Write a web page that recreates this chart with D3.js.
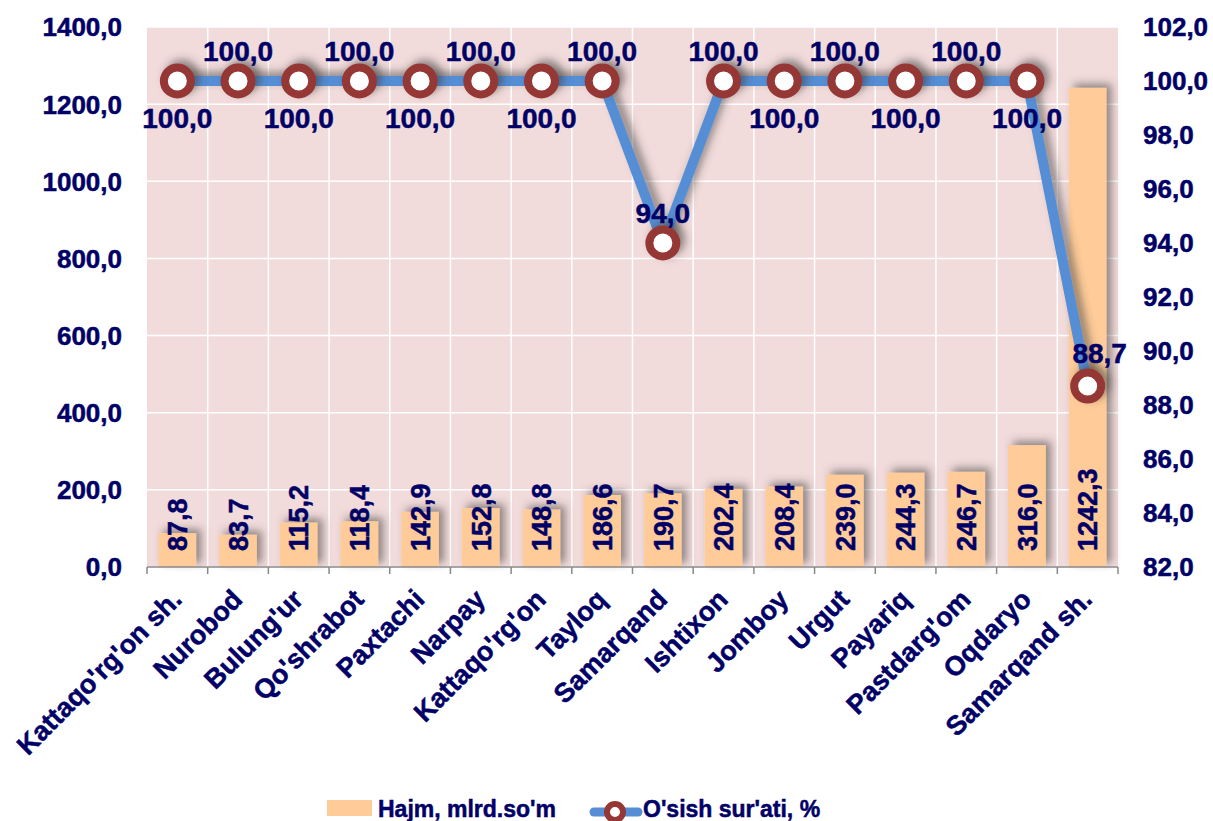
<!DOCTYPE html>
<html>
<head>
<meta charset="utf-8">
<script src="https://cdn.jsdelivr.net/npm/d3@7"></script>
<style>
  body { margin: 0; background: #fff; }
  text { font-family: "Liberation Sans", Arial, sans-serif; font-weight: bold; fill: #000066; stroke: #000066; stroke-width: 0.5px; }
</style>
</head>
<body>
<div class="container"></div>
<script>
let width = 1213
let height = 821

// data
let districts = ["Kattaqo'rg'on sh.", "Nurobod", "Bulung'ur", "Qo'shrabot", "Paxtachi", "Narpay",
  "Kattaqo'rg'on", "Tayloq", "Samarqand", "Ishtixon", "Jomboy", "Urgut", "Payariq",
  "Pastdarg'om", "Oqdaryo", "Samarqand sh."]
let volume = [87.8, 83.7, 115.2, 118.4, 142.9, 152.8, 148.8, 186.6, 190.7, 202.4, 208.4, 239.0, 244.3, 246.7, 316.0, 1242.3]
let growth = [100.0, 100.0, 100.0, 100.0, 100.0, 100.0, 100.0, 100.0, 94.0, 100.0, 100.0, 100.0, 100.0, 100.0, 100.0, 88.7]
let labelSide = ["below", "above", "below", "above", "below", "above", "below", "above",
  "above", "above", "below", "above", "below", "above", "below", "right"]
let leftTicks = [0, 200, 400, 600, 800, 1000, 1200, 1400]
let rightTicks = [82, 84, 86, 88, 90, 92, 94, 96, 98, 100, 102]
let seriesNames = ["Hajm, mlrd.so'm", "O'sish sur'ati, %"]

let fmt = function(v) { return v.toFixed(1).replace(".", ",") }

let plot = { left: 147, right: 1118, top: 27, bottom: 567 }

let svg = d3.select(".container")
  .append("svg")
  .attr("width", width)
  .attr("height", height)

let defs = svg.append("defs")
let shadow = defs.append("filter")
  .attr("id", "shadow")
  .attr("x", "-30%").attr("y", "-30%")
  .attr("width", "160%").attr("height", "160%")
shadow.append("feDropShadow")
  .attr("dx", 5).attr("dy", -4)
  .attr("stdDeviation", 4)
  .attr("flood-color", "#3a3a3a")
  .attr("flood-opacity", 0.55)

let x = d3.scaleBand()
  .domain(districts)
  .range([plot.left, plot.right])
  .paddingInner(0.38)
  .paddingOuter(0.19)

let yLeft = d3.scaleLinear().domain([0, 1400]).range([plot.bottom, plot.top])
let yRight = d3.scaleLinear().domain([82, 102]).range([plot.bottom, plot.top])

let step = (plot.right - plot.left) / districts.length
let cx = function(d) { return x(d) + x.bandwidth() / 2 }

// plot background
svg.append("rect")
  .attr("x", plot.left)
  .attr("y", plot.top)
  .attr("width", plot.right - plot.left)
  .attr("height", plot.bottom - plot.top)
  .attr("fill", "#F2DCDB")

// gridlines
svg.selectAll(".hgrid")
  .data(leftTicks)
  .enter()
  .append("line")
  .attr("class", "hgrid")
  .attr("x1", plot.left).attr("x2", plot.right)
  .attr("y1", function(d) { return yLeft(d) })
  .attr("y2", function(d) { return yLeft(d) })
  .attr("stroke", "#fff")
  .attr("stroke-width", 1.5)

svg.selectAll(".vgrid")
  .data(d3.range(1, districts.length))
  .enter()
  .append("line")
  .attr("class", "vgrid")
  .attr("x1", function(i) { return plot.left + i * step })
  .attr("x2", function(i) { return plot.left + i * step })
  .attr("y1", plot.top).attr("y2", plot.bottom)
  .attr("stroke", "#fff")
  .attr("stroke-width", 1.5)

// bars
svg.append("g")
  .attr("filter", "url(#shadow)")
  .selectAll("rect")
  .data(volume)
  .enter()
  .append("rect")
  .attr("x", function(d, i) { return x(districts[i]) })
  .attr("y", function(d) { return yLeft(d) })
  .attr("width", x.bandwidth())
  .attr("height", function(d) { return yLeft(0) - yLeft(d) })
  .attr("fill", "#FFCC99")

// bottom axis
let xAxis = svg.append("g")
xAxis.append("line")
  .attr("x1", plot.left).attr("x2", plot.right)
  .attr("y1", plot.bottom).attr("y2", plot.bottom)
  .attr("stroke", "#888").attr("stroke-width", 1.5)
xAxis.selectAll(".tick")
  .data(d3.range(0, districts.length + 1))
  .enter()
  .append("line")
  .attr("x1", function(i) { return plot.left + i * step })
  .attr("x2", function(i) { return plot.left + i * step })
  .attr("y1", plot.bottom).attr("y2", plot.bottom + 7)
  .attr("stroke", "#888").attr("stroke-width", 1.5)

// bar value labels
svg.selectAll(".barLabel")
  .data(volume)
  .enter()
  .append("text")
  .attr("class", "barLabel")
  .attr("transform", function(d, i) { return "translate(" + cx(districts[i]) + "," + (plot.bottom - 16) + ") rotate(-90)" })
  .attr("dy", "0.36em")
  .attr("font-size", "27px")
  .text(function(d) { return fmt(d) })

// line
let line = d3.line()
  .x(function(d, i) { return cx(districts[i]) })
  .y(function(d) { return yRight(d) })

svg.append("path")
  .datum(growth)
  .attr("d", line)
  .attr("fill", "none")
  .attr("stroke", "#558ED5")
  .attr("stroke-width", 10)
  .attr("stroke-linejoin", "round")
  .attr("filter", "url(#shadow)")

svg.append("g")
  .attr("filter", "url(#shadow)")
  .selectAll("circle")
  .data(growth)
  .enter()
  .append("circle")
  .attr("cx", function(d, i) { return cx(districts[i]) })
  .attr("cy", function(d) { return yRight(d) })
  .attr("r", 13.5)
  .attr("fill", "#fff")
  .attr("stroke", "#953735")
  .attr("stroke-width", 8)

// line value labels
svg.selectAll(".lineLabel")
  .data(growth)
  .enter()
  .append("text")
  .attr("class", "lineLabel")
  .attr("x", function(d, i) {
    let side = labelSide[i]
    return cx(districts[i]) + (side == "right" ? 12 : 0)
  })
  .attr("y", function(d, i) {
    let side = labelSide[i]
    if (side == "below") return yRight(d) + 47
    if (side == "right") return yRight(d) - 23
    return yRight(d) - 20
  })
  .attr("text-anchor", "middle")
  .attr("font-size", "28px")
  .text(function(d) { return fmt(d) })

// left axis labels
svg.selectAll(".leftTick")
  .data(leftTicks)
  .enter()
  .append("text")
  .attr("class", "leftTick")
  .attr("x", 122)
  .attr("y", function(d) { return yLeft(d) })
  .attr("dy", "0.36em")
  .attr("text-anchor", "end")
  .attr("font-size", "26px")
  .text(function(d) { return fmt(d) })

// right axis labels
svg.selectAll(".rightTick")
  .data(rightTicks)
  .enter()
  .append("text")
  .attr("class", "rightTick")
  .attr("x", 1143)
  .attr("y", function(d) { return yRight(d) })
  .attr("dy", "0.36em")
  .attr("text-anchor", "start")
  .attr("font-size", "26px")
  .text(function(d) { return fmt(d) })

// category labels
svg.selectAll(".catLabel")
  .data(districts)
  .enter()
  .append("text")
  .attr("class", "catLabel")
  .attr("transform", function(d) { return "translate(" + (cx(d) + 6) + "," + (plot.bottom + 34) + ") rotate(-45)" })
  .attr("text-anchor", "end")
  .attr("font-size", "27px")
  .text(function(d) { return d })

// legend
let legend = svg.append("g")
legend.append("rect")
  .attr("x", 327).attr("y", 800)
  .attr("width", 45).attr("height", 16)
  .attr("fill", "#FFCC99")
legend.append("text")
  .attr("x", 378).attr("y", 817)
  .attr("font-size", "23px")
  .text(seriesNames[0])
legend.append("line")
  .attr("x1", 594).attr("x2", 638)
  .attr("y1", 812).attr("y2", 812)
  .attr("stroke", "#558ED5")
  .attr("stroke-width", 9)
  .attr("stroke-linecap", "round")
legend.append("circle")
  .attr("cx", 615).attr("cy", 812)
  .attr("r", 8)
  .attr("fill", "#fff")
  .attr("stroke", "#953735")
  .attr("stroke-width", 6)
legend.append("text")
  .attr("x", 643).attr("y", 817)
  .attr("font-size", "23px")
  .text(seriesNames[1])
</script>
</body>
</html>
